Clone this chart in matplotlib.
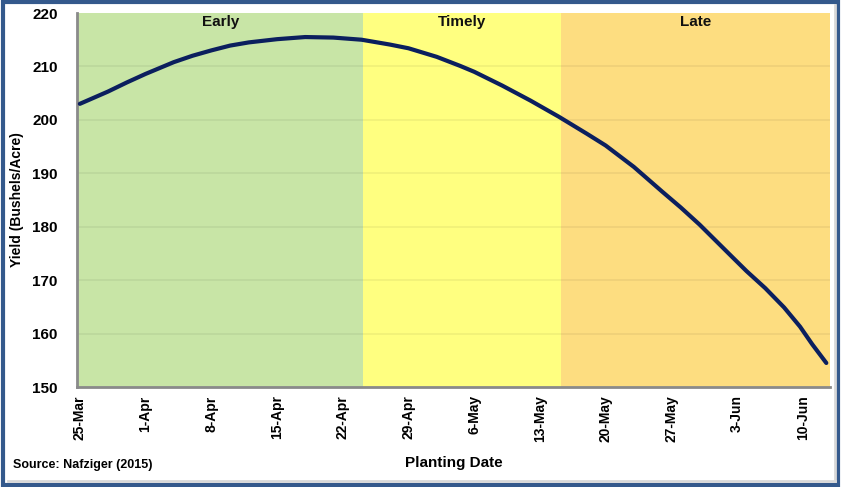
import matplotlib.pyplot as plt
from matplotlib.patches import Rectangle

# days after 25-Mar and yield
days = [0, 3, 5, 7, 10, 12, 14, 16, 18, 21, 24, 27, 30, 33, 35, 38, 40.5, 42, 45,
        48, 51, 54, 56, 59, 62, 64, 66, 69.5, 71, 73, 75, 76.7, 78, 79.5]
yields = [203.0, 205.3, 207.0, 208.6, 210.8, 212.0, 213.0, 213.9, 214.5, 215.1,
          215.5, 215.4, 215.0, 214.1, 213.4, 211.8, 210.1, 209.0, 206.4, 203.6,
          200.6, 197.4, 195.2, 191.2, 186.6, 183.6, 180.4, 174.3, 171.7, 168.5,
          164.9, 161.3, 158.0, 154.5]

tick_days = [0, 7, 14, 21, 28, 35, 42, 49, 56, 63, 70, 77]
tick_labels = ["25-Mar", "1-Apr", "8-Apr", "15-Apr", "22-Apr", "29-Apr",
               "6-May", "13-May", "20-May", "27-May", "3-Jun", "10-Jun"]

zone_names = ["Early", "Timely", "Late"]
zone_edges = [-0.3, 30.2, 51.2, 79.9]
zone_colors = ["#C8E5A6", "#FFFF80", "#FDDD80"]

plt.rcParams['font.family'] = ['Liberation Sans', 'DejaVu Sans']
plt.rcParams['font.weight'] = 'bold'

fig = plt.figure(figsize=(8.41, 4.87), dpi=100)
ax = fig.add_axes([0.0916, 0.2053, 0.8954, 0.768])

for i in range(len(zone_names)):
    ax.axvspan(zone_edges[i], zone_edges[i+1], color=zone_colors[i], zorder=0, lw=0)
    ax.text((zone_edges[i] + zone_edges[i+1]) / 2, 218.4, zone_names[i],
            ha="center", va="center", fontsize=11, fontweight="bold", color="#111111")

for yv in range(160, 220, 10):
    ax.axhline(yv, color="#000000", alpha=0.06, lw=1.2, zorder=1)

ax.plot(days, yields, color="#0B1F5E", lw=3, zorder=3, solid_capstyle="round",
        solid_joinstyle="round")

ax.set_xlim(zone_edges[0], zone_edges[-1])
ax.set_ylim(150, 220)
ax.set_yticks(range(150, 221, 10))
ax.set_xticks(tick_days)
ax.set_xticklabels(tick_labels, rotation=90, fontsize=10, fontweight="bold")
for lab in ax.get_yticklabels():
    lab.set_fontsize(11)
    lab.set_fontweight("bold")
ax.tick_params(axis="both", length=0)
ax.tick_params(axis="y", pad=14)
ax.tick_params(axis="x", pad=6)

for s in ["top", "right"]:
    ax.spines[s].set_visible(False)
for s in ["left", "bottom"]:
    ax.spines[s].set_color("#8A8A8A")
    ax.spines[s].set_linewidth(2)

ax.set_ylabel("Yield (Bushels/Acre)", fontsize=10, fontweight="bold")
ax.yaxis.set_label_coords(-0.071, 0.5)
fig.text(0.54, 0.05, "Planting Date", ha="center", va="center", fontsize=11, fontweight="bold")
fig.text(0.016, 0.045, "Source: Nafziger (2015)", ha="left", va="center", fontsize=9, fontweight="bold")

# frame around the picture
fig.add_artist(Rectangle((0.003, 0.005), 0.994, 0.99, transform=fig.transFigure,
                         fill=False, edgecolor="#34598C", lw=3))
fig.add_artist(plt.Line2D([0.01, 0.993], [0.013, 0.013], transform=fig.transFigure,
                          color="#D8D8D8", lw=2))
fig.add_artist(plt.Line2D([0.993, 0.993], [0.013, 0.99], transform=fig.transFigure,
                          color="#D8D8D8", lw=2))

fig.savefig("out.png", dpi=100)
